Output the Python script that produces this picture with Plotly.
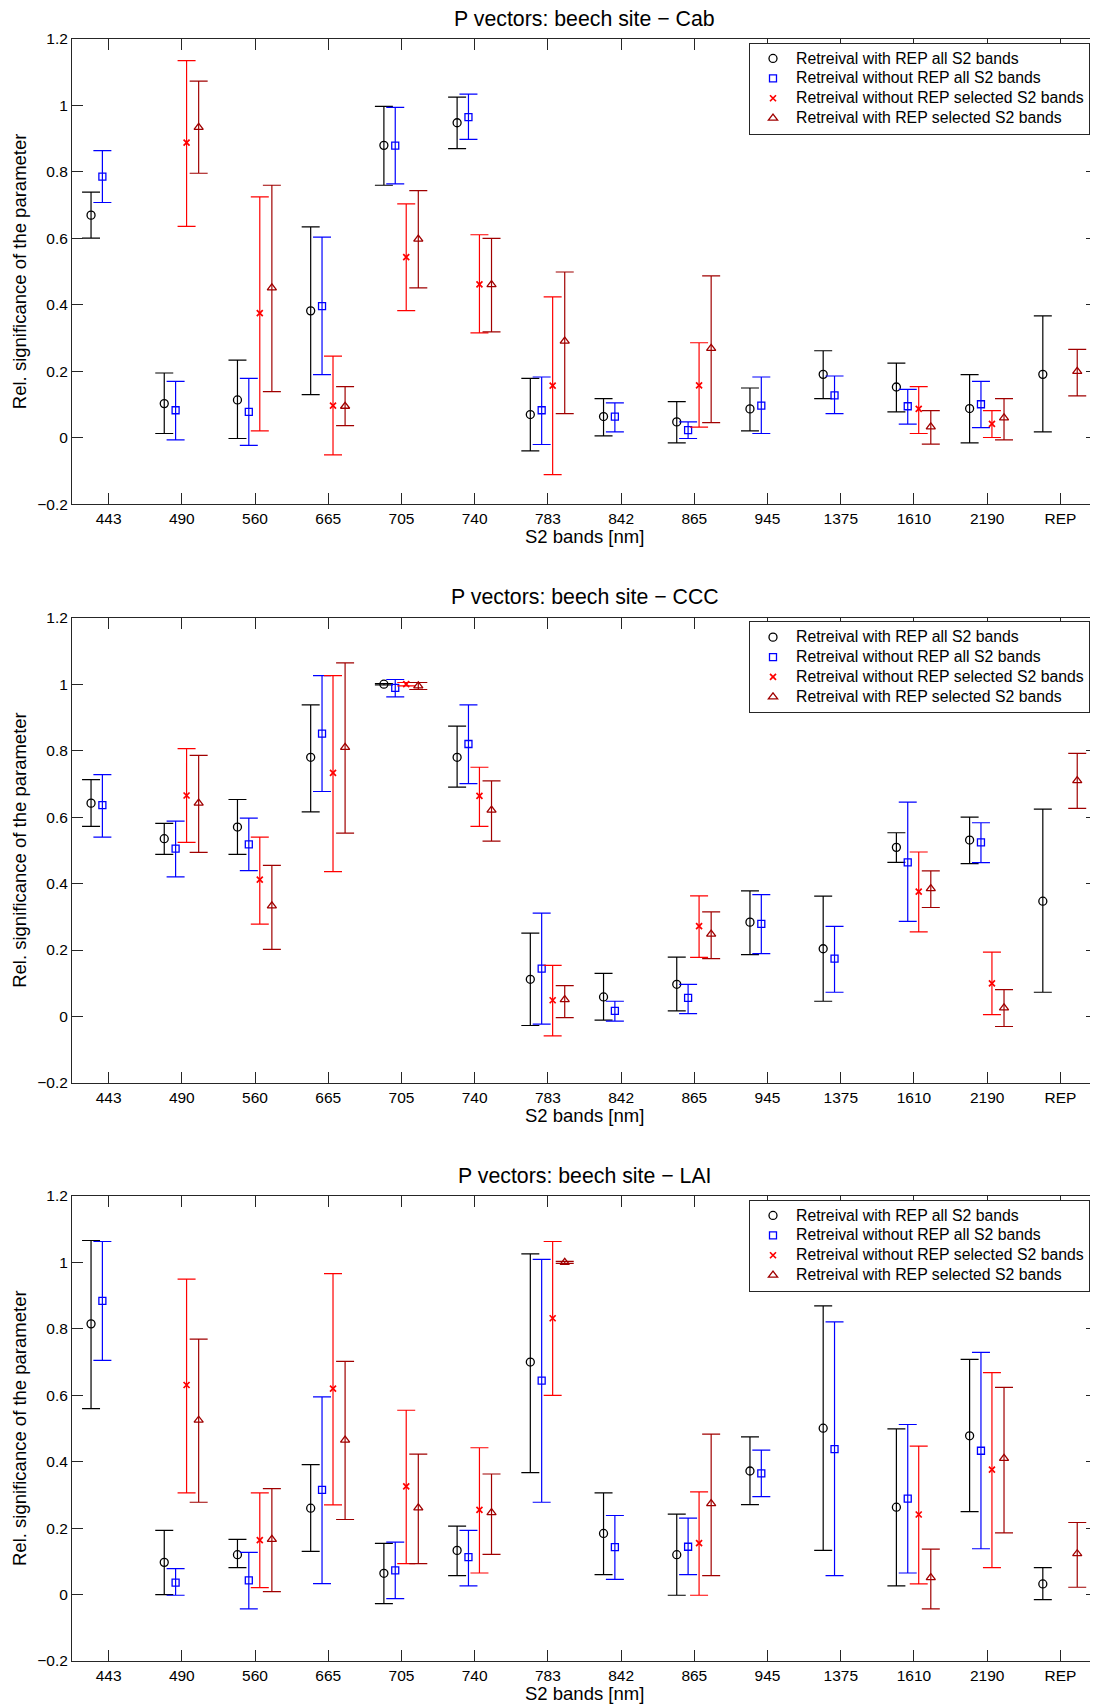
import plotly.graph_objects as go

# ---------------- data ----------------
bands = ["443", "490", "560", "665", "705", "740", "783", "842", "865", "945", "1375", "1610", "2190", "REP"]

series_names = [
    "Retreival with REP all S2 bands",
    "Retreival without REP all S2 bands",
    "Retreival without REP selected S2 bands",
    "Retreival with REP selected S2 bands",
]

panel_titles = ["P vectors: beech site \u2212 Cab", "P vectors: beech site \u2212 CCC", "P vectors: beech site \u2212 LAI"]

# ---- Cab ----
cab_with_all = [0.670, 0.103, 0.114, 0.382, 0.880, 0.948, 0.070, 0.064, 0.048, 0.087, 0.191, 0.153, 0.088, 0.191]
cab_with_all_lo = [0.601, 0.013, -0.002, 0.130, 0.760, 0.870, -0.039, 0.006, -0.015, 0.021, 0.118, 0.078, -0.015, 0.018]
cab_with_all_hi = [0.739, 0.195, 0.234, 0.635, 0.997, 1.025, 0.179, 0.118, 0.109, 0.150, 0.262, 0.225, 0.190, 0.367]

cab_without_all = [0.786, 0.083, 0.078, 0.396, 0.879, 0.965, 0.083, 0.064, 0.023, 0.097, 0.128, 0.095, 0.101, None]
cab_without_all_lo = [0.708, -0.006, -0.023, 0.190, 0.764, 0.898, -0.020, 0.018, -0.002, 0.013, 0.073, 0.041, 0.031, None]
cab_without_all_hi = [0.864, 0.170, 0.179, 0.604, 0.994, 1.034, 0.183, 0.105, 0.048, 0.183, 0.186, 0.146, 0.170, None]

cab_without_sel = [None, 0.888, 0.375, 0.097, 0.544, 0.462, 0.157, None, 0.158, None, None, 0.087, 0.042, None]
cab_without_sel_lo = [None, 0.636, 0.021, -0.051, 0.383, 0.316, -0.111, None, 0.032, None, None, 0.013, 0.001, None]
cab_without_sel_hi = [None, 1.135, 0.725, 0.246, 0.704, 0.611, 0.424, None, 0.286, None, None, 0.154, 0.082, None]

cab_with_sel = [None, 0.934, 0.451, 0.095, 0.598, 0.461, 0.291, None, 0.269, None, None, 0.033, 0.060, 0.200]
cab_with_sel_lo = [None, 0.796, 0.139, 0.037, 0.451, 0.319, 0.073, None, 0.046, None, None, -0.019, -0.006, 0.126]
cab_with_sel_hi = [None, 1.073, 0.760, 0.154, 0.744, 0.600, 0.499, None, 0.487, None, None, 0.082, 0.118, 0.266]

# ---- CCC ----
ccc_with_all = [0.642, 0.535, 0.570, 0.780, 1.000, 0.780, 0.112, 0.059, 0.097, 0.284, 0.204, 0.509, 0.531, 0.347]
ccc_with_all_lo = [0.572, 0.488, 0.488, 0.616, 0.998, 0.690, -0.027, -0.011, 0.017, 0.186, 0.046, 0.464, 0.460, 0.073]
ccc_with_all_hi = [0.713, 0.581, 0.653, 0.938, 1.002, 0.874, 0.251, 0.130, 0.179, 0.378, 0.362, 0.553, 0.600, 0.624]

ccc_without_all = [0.636, 0.505, 0.518, 0.851, 0.989, 0.820, 0.144, 0.017, 0.056, 0.279, 0.174, 0.464, 0.524, None]
ccc_without_all_lo = [0.540, 0.420, 0.439, 0.677, 0.962, 0.701, -0.023, -0.014, 0.009, 0.189, 0.073, 0.286, 0.463, None]
ccc_without_all_hi = [0.728, 0.588, 0.597, 1.026, 1.014, 0.938, 0.311, 0.046, 0.097, 0.367, 0.271, 0.645, 0.583, None]

ccc_without_sel = [None, 0.665, 0.412, 0.733, 1.000, 0.664, 0.049, None, 0.272, None, None, 0.376, 0.100, None]
ccc_without_sel_lo = [None, 0.524, 0.278, 0.436, 0.995, 0.572, -0.058, None, 0.178, None, None, 0.255, 0.006, None]
ccc_without_sel_hi = [None, 0.806, 0.540, 1.026, 1.005, 0.750, 0.154, None, 0.363, None, None, 0.495, 0.194, None]

ccc_with_sel = [None, 0.642, 0.333, 0.810, 0.995, 0.621, 0.051, None, 0.248, None, None, 0.385, 0.026, 0.710]
ccc_with_sel_lo = [None, 0.494, 0.202, 0.552, 0.984, 0.528, -0.003, None, 0.174, None, None, 0.328, -0.030, 0.626]
ccc_with_sel_hi = [None, 0.786, 0.455, 1.064, 1.005, 0.709, 0.093, None, 0.315, None, None, 0.438, 0.081, 0.792]

# ---- LAI ----
lai_with_all = [0.815, 0.097, 0.120, 0.260, 0.064, 0.133, 0.700, 0.184, 0.120, 0.372, 0.501, 0.263, 0.478, 0.032]
lai_with_all_lo = [0.560, 0.000, 0.081, 0.130, -0.027, 0.057, 0.367, 0.060, -0.002, 0.271, 0.133, 0.026, 0.250, -0.015]
lai_with_all_hi = [1.066, 0.193, 0.166, 0.391, 0.154, 0.206, 1.026, 0.306, 0.242, 0.475, 0.869, 0.499, 0.708, 0.081]

lai_without_all = [0.884, 0.036, 0.043, 0.315, 0.073, 0.113, 0.644, 0.143, 0.144, 0.365, 0.438, 0.289, 0.433, None]
lai_without_all_lo = [0.705, -0.002, -0.043, 0.033, -0.012, 0.026, 0.278, 0.046, 0.060, 0.295, 0.057, 0.065, 0.138, None]
lai_without_all_hi = [1.063, 0.078, 0.127, 0.595, 0.158, 0.193, 1.009, 0.238, 0.230, 0.435, 0.821, 0.512, 0.729, None]

lai_without_sel = [None, 0.631, 0.164, 0.620, 0.326, 0.255, 0.832, None, 0.155, None, None, 0.241, 0.376, None]
lai_without_sel_lo = [None, 0.306, 0.021, 0.270, 0.093, 0.065, 0.600, None, -0.002, None, None, 0.032, 0.081, None]
lai_without_sel_hi = [None, 0.950, 0.306, 0.966, 0.555, 0.442, 1.063, None, 0.309, None, None, 0.447, 0.668, None]

lai_with_sel = [None, 0.525, 0.166, 0.465, 0.261, 0.247, 1.000, None, 0.274, None, None, 0.051, 0.410, 0.123]
lai_with_sel_lo = [None, 0.278, 0.009, 0.226, 0.093, 0.121, 0.997, None, 0.057, None, None, -0.043, 0.186, 0.022]
lai_with_sel_hi = [None, 0.769, 0.319, 0.702, 0.423, 0.363, 1.003, None, 0.483, None, None, 0.137, 0.624, 0.217]

y_ticks = [-0.2, 0, 0.2, 0.4, 0.6, 0.8, 1, 1.2]
y_ticktext = ["\u22120.2", "0", "0.2", "0.4", "0.6", "0.8", "1", "1.2"]

panels = [
    [(cab_with_all, cab_with_all_lo, cab_with_all_hi),
     (cab_without_all, cab_without_all_lo, cab_without_all_hi),
     (cab_without_sel, cab_without_sel_lo, cab_without_sel_hi),
     (cab_with_sel, cab_with_sel_lo, cab_with_sel_hi)],
    [(ccc_with_all, ccc_with_all_lo, ccc_with_all_hi),
     (ccc_without_all, ccc_without_all_lo, ccc_without_all_hi),
     (ccc_without_sel, ccc_without_sel_lo, ccc_without_sel_hi),
     (ccc_with_sel, ccc_with_sel_lo, ccc_with_sel_hi)],
    [(lai_with_all, lai_with_all_lo, lai_with_all_hi),
     (lai_without_all, lai_without_all_lo, lai_without_all_hi),
     (lai_without_sel, lai_without_sel_lo, lai_without_sel_hi),
     (lai_with_sel, lai_with_sel_lo, lai_with_sel_hi)],
]

# ---------------- style ----------------
FONT = "Liberation Sans, Arial, Helvetica, sans-serif"
AXCOL = "#262626"
offsets = [-0.24, -0.085, 0.065, 0.23]
colors = ["#000000", "#0000FF", "#FF0000", "#A00000"]
symbols = ["circle-open", "square-open", "x-thin", "triangle-up-open"]
msizes = [8, 7, 6, 8]

# page body has an 8 px margin, so the figure is 8 px smaller than the window
W, H = 1090, 1698
ML, MR, MT, MB = 64, 1, 31, 45
plot_h = H - MT - MB
panel_px_h = 465.3
panel_tops_px = [31.0, 609.7, 1188.0]

def paper_y(py):
    return min(1.0, max(0.0, (H - MB - py) / plot_h))

fig = go.Figure()

for p, series in enumerate(panels):
    xa = "x" if p == 0 else f"x{p+1}"
    ya = "y" if p == 0 else f"y{p+1}"
    leg = "legend" if p == 0 else f"legend{p+1}"
    for s, (vals, lo, hi) in enumerate(series):
        xs, ys, ep, em = [], [], [], []
        for i, v in enumerate(vals):
            if v is None:
                continue
            xs.append(i + 1 + offsets[s])
            ys.append(v)
            ep.append(hi[i] - v)
            em.append(v - lo[i])
        marker = dict(symbol=symbols[s], size=msizes[s], color=colors[s],
                      line=dict(width=1.3 if s != 2 else 1.7, color=colors[s]))
        fig.add_trace(go.Scatter(
            x=xs, y=ys, mode="markers", xaxis=xa, yaxis=ya,
            name=f'<span style="font-size:15.8px">{series_names[s]}</span>',
            legend=leg, marker=marker,
            error_y=dict(type="data", symmetric=False, array=ep, arrayminus=em,
                         color=colors[s], thickness=1.2, width=9),
            showlegend=True,
        ))

layout = dict(
    width=W, height=H,
    margin=dict(l=ML, r=MR, t=MT, b=MB),
    paper_bgcolor="white", plot_bgcolor="white",
    font=dict(family=FONT, size=15.5, color="black"),
    showlegend=True,
)

annotations = []
for p in range(3):
    top = panel_tops_px[p]
    bottom = top + panel_px_h
    dom = [paper_y(bottom), paper_y(top)]
    xk = "xaxis" if p == 0 else f"xaxis{p+1}"
    yk = "yaxis" if p == 0 else f"yaxis{p+1}"
    xa = "x" if p == 0 else f"x{p+1}"
    ya = "y" if p == 0 else f"y{p+1}"
    layout[xk] = dict(
        domain=[0, 1], anchor=ya, range=[0.5, 14.5],
        tickmode="array", tickvals=list(range(1, 15)), ticktext=bands,
        ticks="inside", ticklen=11, tickwidth=1, tickcolor=AXCOL,
        showline=True, linecolor=AXCOL, linewidth=1, mirror="allticks",
        showgrid=False, zeroline=False, tickfont=dict(size=15.5),
    )
    layout[yk] = dict(
        domain=dom, anchor=xa, range=[-0.2, 1.2],
        tickmode="array", tickvals=y_ticks, ticktext=y_ticktext,
        ticks="inside", ticklen=11, tickwidth=1, tickcolor=AXCOL,
        showline=True, linecolor=AXCOL, linewidth=1, mirror="allticks",
        showgrid=False, zeroline=False, tickfont=dict(size=15.5),
    )
    leg = "legend" if p == 0 else f"legend{p+1}"
    layout[leg] = dict(
        x=(741 - ML) / (W - ML - MR), xanchor="left",
        y=paper_y(top + 3.5), yanchor="top",
        bgcolor="white", bordercolor=AXCOL, borderwidth=1,
        font=dict(size=13, family=FONT, color="black"),
        itemwidth=36, tracegroupgap=0,
    )
    annotations.append(dict(text=panel_titles[p], xref=f"{xa} domain", yref=f"{ya} domain",
                            x=0.5, y=1, xanchor="center", yanchor="middle", yshift=20.5,
                            showarrow=False, font=dict(size=21.3, family=FONT, color="black")))
    annotations.append(dict(text="S2 bands [nm]", xref=f"{xa} domain", yref=f"{ya} domain",
                            x=0.5, y=0, xanchor="center", yanchor="middle", yshift=-32,
                            showarrow=False, font=dict(size=18.5, family=FONT, color="black")))
    annotations.append(dict(text="Rel. significance of the parameter", xref=f"{xa} domain", yref=f"{ya} domain",
                            x=0, y=0.5, xanchor="center", yanchor="middle", xshift=-52.5, textangle=-90,
                            showarrow=False, font=dict(size=18.5, family=FONT, color="black")))

layout["annotations"] = annotations
fig.update_layout(**layout)

fig.write_html("out.html")
